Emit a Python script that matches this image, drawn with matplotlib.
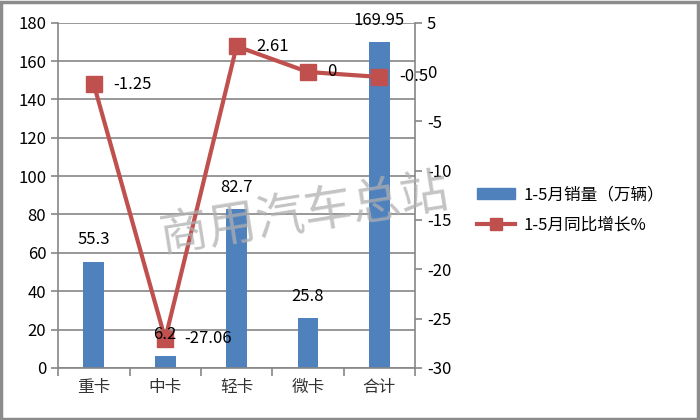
import numpy as np
import matplotlib.pyplot as plt
from matplotlib.patches import Rectangle

plt.rcParams['font.family'] = ['Noto Sans CJK SC', 'DejaVu Sans']
plt.rcParams['axes.unicode_minus'] = False

categories = ["重卡", "中卡", "轻卡", "微卡", "合计"]
sales = [55.3, 6.2, 82.7, 25.8, 169.95]
growth = [-1.25, -27.06, 2.61, 0, -0.5]
sales_labels = ["55.3", "6.2", "82.7", "25.8", "169.95"]
growth_labels = ["-1.25", "-27.06", "2.61", "0", "-0.5"]

BLUE = "#4f81bd"
RED = "#c0504d"
GRID = "#868686"

fig = plt.figure(figsize=(7, 4.2), dpi=100)
fig.patches.append(Rectangle((0.002, 0.003), 0.995, 0.993, transform=fig.transFigure,
                             fill=False, edgecolor="#8c8c8c", linewidth=2.5))

ax = fig.add_axes([0.083, 0.124, 0.510, 0.822])
x = np.arange(len(categories))
ax.bar(x, sales, width=0.29, color=BLUE, zorder=2)
ax.set_xlim(-0.5, len(categories) - 0.5)
ax.set_ylim(0, 180)
ax.set_yticks(np.arange(0, 181, 20))
ax.yaxis.grid(True, color=GRID, linewidth=1.2, zorder=0)
ax.set_axisbelow(True)
ax.set_xticks(x)
ax.set_xticklabels(categories, fontsize=12, color="#333333")
ax.set_xticks(np.arange(-0.5, len(categories), 1), minor=True)
ax.tick_params(axis="x", which="major", length=0, pad=8)
ax.tick_params(axis="x", which="minor", length=6, color=GRID, width=1.2)
ax.tick_params(axis="y", length=5, color=GRID, width=1.2, labelsize=12)
for s in ["top", "right"]:
    ax.spines[s].set_visible(False)
for s in ["left", "bottom"]:
    ax.spines[s].set_color(GRID)
    ax.spines[s].set_linewidth(1.2)

ax2 = ax.twinx()
ax2.set_ylim(-30, 5)
ax2.set_yticks(np.arange(-30, 6, 5))
ax2.plot(x, growth, color=RED, linewidth=3, marker="s", markersize=11, zorder=3)
ax2.tick_params(axis="y", length=5, color=GRID, width=1.2, labelsize=12)
for s in ["top", "left", "bottom"]:
    ax2.spines[s].set_visible(False)
ax2.spines["right"].set_color(GRID)
ax2.spines["right"].set_linewidth(1.2)

# bar labels drawn on the top axes so they sit over the line
for xi, v, lab in zip(x, sales, sales_labels):
    ax2.text(xi, v + 7, lab, ha="center", va="bottom", fontsize=12,
             transform=ax.transData, zorder=5)

for xi, v, lab in zip(x, growth, growth_labels):
    ax2.annotate(lab, (xi, v), xytext=(14, 0), textcoords="offset points",
                 ha="left", va="center", fontsize=12, zorder=4)

fig.text(0.435, 0.49, "商用汽车总站", fontsize=35, color="#b0b0b0", alpha=0.75,
         rotation=9, ha="center", va="center", fontweight="light")

h1 = Rectangle((0, 0), 1, 1, color=BLUE)
h2, = ax2.plot([], [], color=RED, linewidth=3, marker="s", markersize=9)
fig.legend([h1, h2], ["1-5月销量（万辆）", "1-5月同比增长%"], loc="center left",
           bbox_to_anchor=(0.66, 0.5), frameon=False, fontsize=12,
           handlelength=2.3, handletextpad=0.5, labelspacing=0.8)

fig.savefig("out.png", dpi=100)
